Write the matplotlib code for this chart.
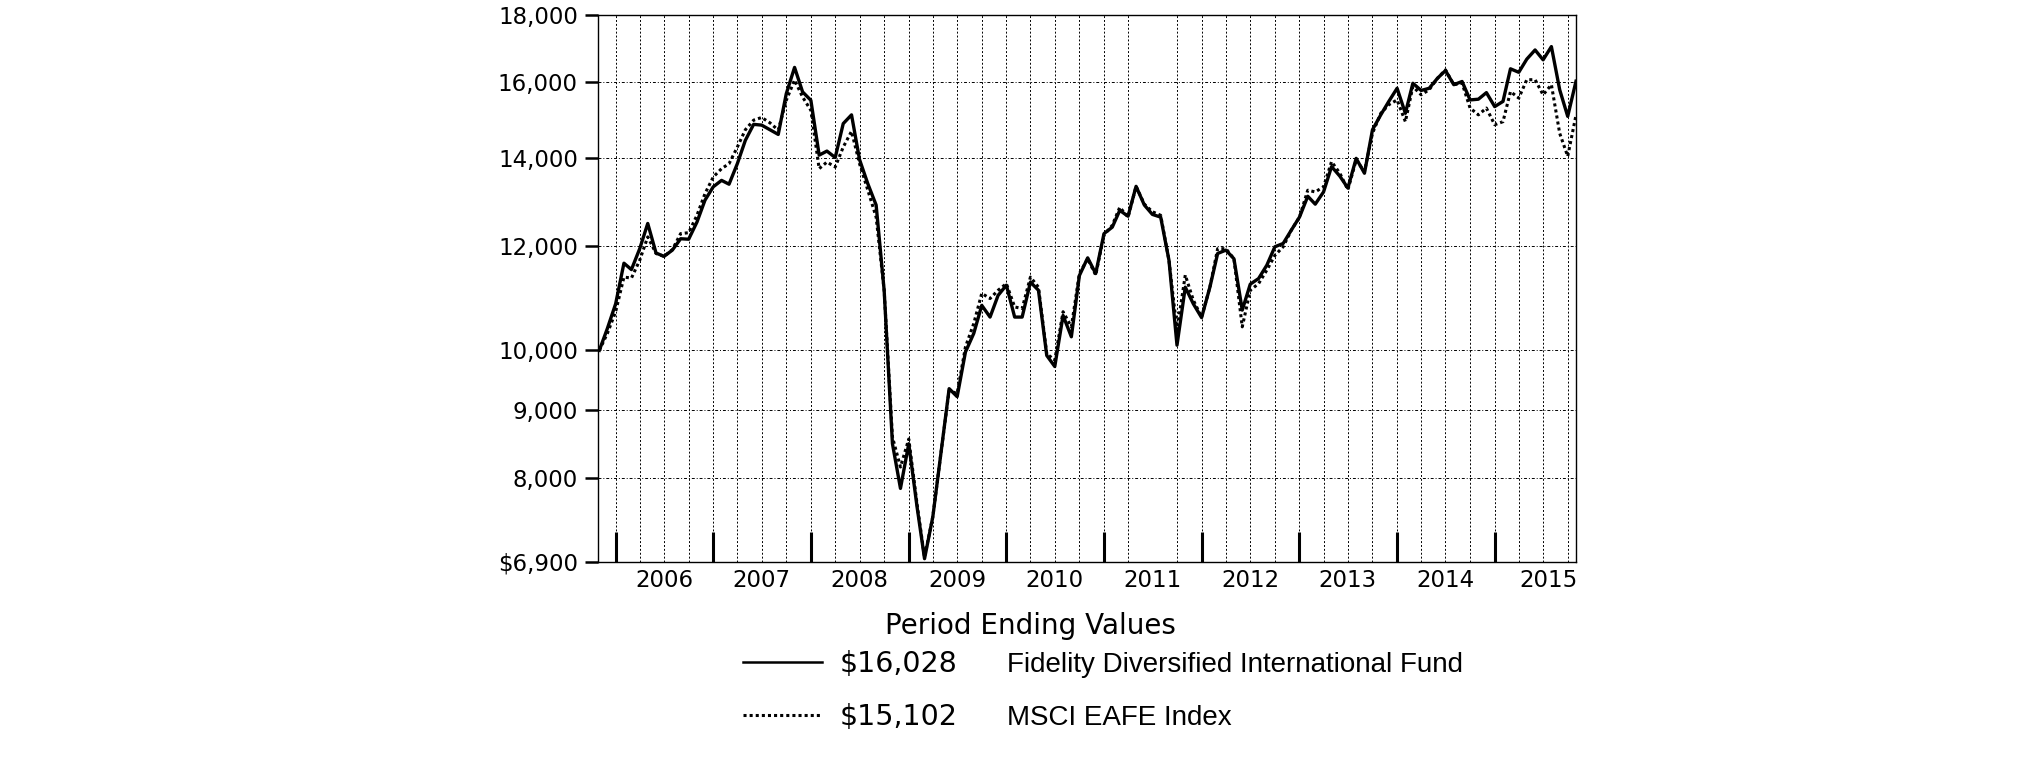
import matplotlib
matplotlib.use("Agg")
import matplotlib.pyplot as plt
import matplotlib.ticker as ticker
from matplotlib.lines import Line2D
from matplotlib import font_manager
import pandas as pd

# Month-end values of a hypothetical $10,000 investment, Oct 2005 - Oct 2015
months = pd.date_range("2005-10-31", periods=121, freq="ME")

fund = [
    10000, 10390, 10850, 11650, 11520, 11950, 12490, 11860, 11790, 11920, 12160, 12150,
    12520, 13010, 13320, 13470, 13380, 13870, 14450, 14860, 14840, 14720, 14600, 15680,
    16420, 15730, 15500, 14080, 14180, 14020, 14880, 15110, 13970, 13390, 12900, 11110,
    8490, 7850, 8490, 7600, 6940, 7470, 8340, 9350, 9220, 9970, 10300, 10820,
    10600, 11010, 11210, 10600, 10600, 11270, 11110, 9910, 9720, 10630, 10240, 11400,
    11760, 11440, 12270, 12410, 12780, 12650, 13330, 12900, 12690, 12630, 11710, 10090,
    11170, 10850, 10590, 11170, 11850, 11920, 11740, 10730, 11230, 11340, 11610, 11990,
    12060, 12340, 12630, 13100, 12920, 13200, 13800, 13570, 13290, 14000, 13640, 14720,
    15110, 15470, 15830, 15150, 15970, 15770, 15830, 16110, 16330, 15930, 16020, 15510,
    15530, 15710, 15330, 15470, 16380, 16280, 16660, 16930, 16640, 17030, 15790, 15070,
    16028,
]

msci = [
    10000, 10300, 10700, 11370, 11350, 11710, 12200, 11850, 11790, 11930, 12270, 12290,
    12670, 13160, 13550, 13750, 13870, 14280, 14720, 14970, 15040, 14900, 14710, 15500,
    16060, 15590, 15230, 13750, 13910, 13790, 14280, 14680, 13870, 13240, 12630, 11110,
    8590, 8150, 8560, 7640, 6960, 7470, 8340, 9320, 9270, 10060, 10480, 11050,
    10950, 11110, 11240, 10790, 10760, 11370, 11170, 9940, 9830, 10700, 10420, 11440,
    11740, 11410, 12240, 12450, 12850, 12630, 13330, 12920, 12750, 12670, 11710, 10360,
    11410, 10920, 10600, 11170, 11950, 11950, 11740, 10420, 11110, 11240, 11510, 11810,
    11990, 12340, 12630, 13240, 13200, 13320, 13920, 13640, 13250, 13960, 13680, 14630,
    15150, 15380, 15510, 14930, 15880, 15650, 15790, 16110, 16350, 15930, 15970, 15290,
    15110, 15290, 14850, 14930, 15740, 15560, 16070, 16070, 15650, 15930, 14630, 14050,
    15102,
]

fund_name = "Fidelity Diversified International Fund"
msci_name = "MSCI EAFE Index"
fund_end = "$16,028"
msci_end = "$15,102"

years = list(range(2006, 2016))
yticks = [6900, 8000, 9000, 10000, 12000, 14000, 16000, 18000]
ytick_labels = ["$6,900", "8,000", "9,000", "10,000", "12,000", "14,000", "16,000", "18,000"]

W, H = 2026, 763
fig = plt.figure(figsize=(W / 100, H / 100), dpi=100)
ax = fig.add_axes([598 / W, 1 - 562 / H, 978 / W, 547 / H])

ax.set_yscale("log")
ax.plot(months, fund, color="black", lw=2.4, zorder=3)
ax.plot(months, msci, color="black", lw=2.2, linestyle=(0, (1, 1)), zorder=4)

ax.set_xlim(pd.Timestamp("2005-10-26"), pd.Timestamp("2015-10-31"))
ax.set_ylim(6900, 18000)

# y axis
ax.yaxis.set_major_locator(ticker.FixedLocator(yticks))
ax.yaxis.set_minor_locator(ticker.NullLocator())
ax.set_yticklabels(ytick_labels)
ax.tick_params(axis="y", which="major", direction="out", length=9.5, width=1.8,
               pad=5, labelsize=16.5, colors="black")

# grid: horizontal at inner ticks, vertical every quarter
for v in yticks[1:-1]:
    ax.axhline(v, color="black", lw=0.7, linestyle=(0, (3, 2, 1, 2)), zorder=1)
quarters = pd.date_range("2005-12-31", "2015-09-30", freq="QE")
for q in quarters:
    if q == pd.Timestamp("2011-06-30"):
        continue  # this one is absent in the original
    ax.axvline(q, color="black", lw=0.7, linestyle=(0, (2, 2)), zorder=1)

# x axis: year boundary ticks inside, year labels centred between them
year_ticks = pd.date_range("2005-12-31", "2014-12-31", freq="YE")
label_pos = [pd.Timestamp(f"{y}-06-30") for y in years[:-1]] + [pd.Timestamp("2015-07-20")]
ax.set_xticks(year_ticks)
ax.set_xticklabels([])
ax.set_xticks(label_pos, minor=True)
ax.set_xticklabels([str(y) for y in years], minor=True)
ax.tick_params(axis="x", which="major", direction="in", length=21.6, width=2.2,
               labelbottom=False)
ax.tick_params(axis="x", which="minor", length=0, pad=5, labelsize=16.5)

for s in ax.spines.values():
    s.set_color("black")
    s.set_linewidth(1.0)

# legend block
names = {f.name for f in font_manager.fontManager.ttflist}
if "Liberation Sans Narrow" in names:
    label_font, label_size = "Liberation Sans Narrow", 24.5
else:
    label_font, label_size = "Liberation Sans", 20

fig.text(1030 / W, 1 - 634.5 / H, "Period Ending Values", ha="center", va="baseline",
         fontsize=20)

rows = [(672, 661.5, fund_end, fund_name, "-", 1.8),
        (725, 714.5, msci_end, msci_name, (0, (1, 1)), 2.2)]
for base, mid, val, name, ls, lw in rows:
    fig.add_artist(Line2D([743 / W, 822 / W], [1 - mid / H, 1 - mid / H],
                          transform=fig.transFigure, color="black", lw=lw, linestyle=ls))
    fig.text(840 / W, 1 - base / H, val, ha="left", va="baseline", fontsize=20.5)
    fig.text(1006.5 / W, 1 - base / H, name, ha="left", va="baseline",
             fontsize=label_size, family=label_font)

fig.savefig("out.png", dpi=100)
